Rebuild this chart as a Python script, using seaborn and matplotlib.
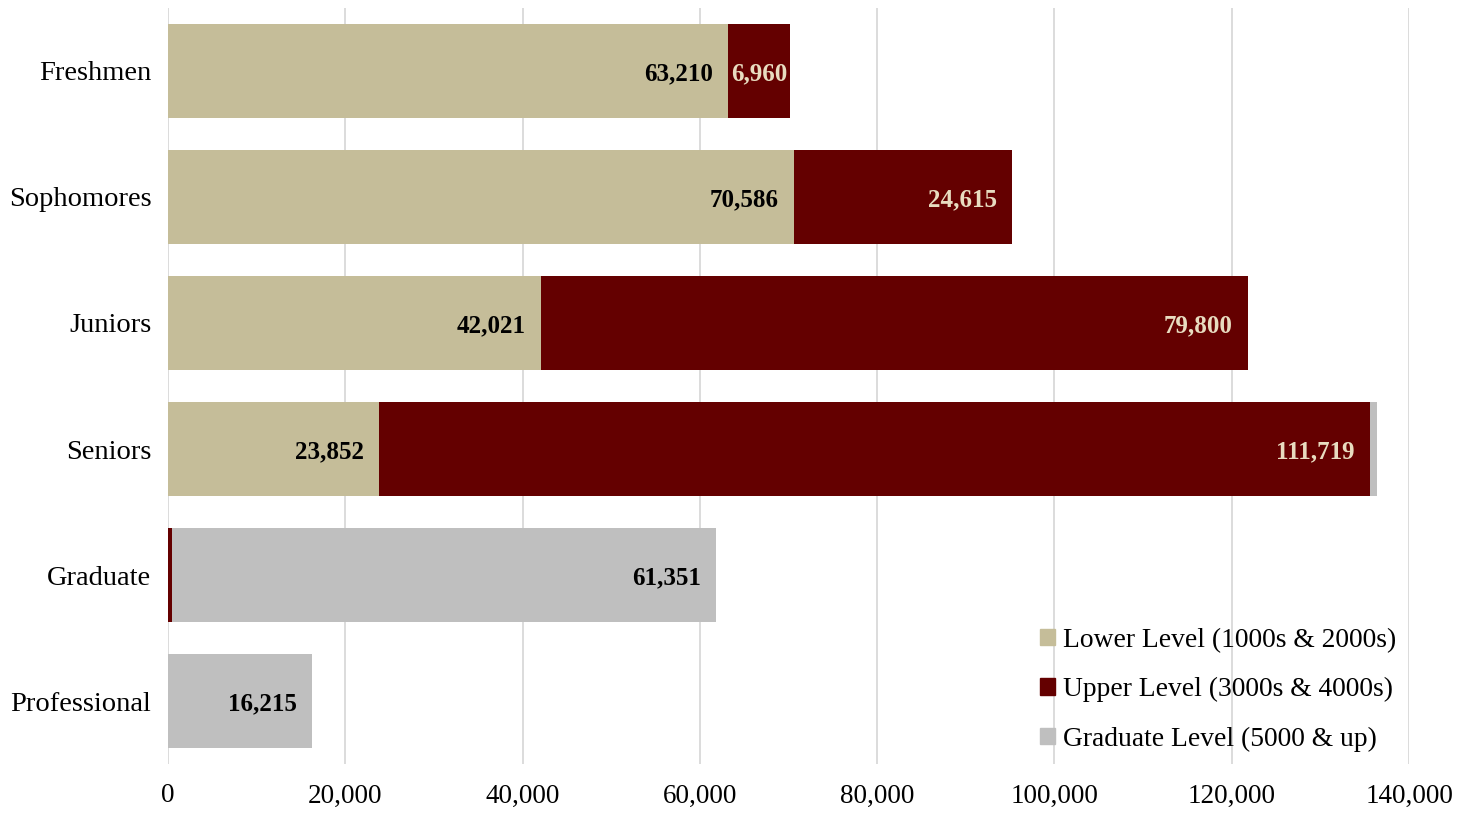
import numpy as np
import pandas as pd
import matplotlib
matplotlib.use("Agg")
import matplotlib.pyplot as plt
import seaborn as sns
from matplotlib.patches import Patch

# --- data ---
classes = ['Freshmen', 'Sophomores', 'Juniors', 'Seniors', 'Graduate', 'Professional']
lower_level = [63210, 70586, 42021, 23852, 0, 0]
upper_level = [6960, 24615, 79800, 111719, 450, 0]
grad_level = [0, 0, 0, 850, 61351, 16215]
series_names = ['Lower Level (1000s & 2000s)', 'Upper Level (3000s & 4000s)', 'Graduate Level (5000 & up)']
x_ticks = [0, 20000, 40000, 60000, 80000, 100000, 120000, 140000]

# labels shown on the chart (None = no label)
lower_labels = [63210, 70586, 42021, 23852, None, None]
upper_labels = [6960, 24615, 79800, 111719, None, None]
grad_labels = [None, None, None, None, 61351, 16215]

C_LOWER = '#C5BD99'
C_UPPER = '#640000'
C_GRAD = '#BFBFBF'

sns.set_theme(style='white')
plt.rcParams['font.family'] = ['Liberation Serif', 'DejaVu Serif']

df = pd.DataFrame({'cls': classes, 'lower': lower_level,
                   'upper': upper_level, 'grad': grad_level})
df['cum_upper'] = df['lower'] + df['upper']
df['cum_grad'] = df['cum_upper'] + df['grad']

fig = plt.figure(figsize=(14.69, 8.14), dpi=100)
ax = fig.add_axes([0.1144, 0.0614, 0.8448, 0.9288])

# stacked bars by overlaying cumulative totals
bar_kw = dict(orient='h', width=0.74, saturation=1, linewidth=0, ax=ax)
sns.barplot(data=df, y='cls', x='cum_grad', color=C_GRAD, zorder=2, **bar_kw)
sns.barplot(data=df, y='cls', x='cum_upper', color=C_UPPER, zorder=3, **bar_kw)
sns.barplot(data=df, y='cls', x='lower', color=C_LOWER, zorder=4, **bar_kw)

def put_labels(vals, ends, seg, color):
    for i, (v, e, s) in enumerate(zip(vals, ends, seg)):
        if v is None:
            continue
        txt = f'{v:,}'
        if s < 10000:
            ax.text(e - s / 2, i, txt, ha='center', va='center_baseline', fontsize=18,
                    fontweight='bold', color=color, zorder=6)
        else:
            ax.annotate(txt, (e, i), xytext=(-11, 0), textcoords='offset points',
                        ha='right', va='center_baseline', fontsize=18, fontweight='bold',
                        color=color, zorder=6)

put_labels(lower_labels, df['lower'], df['lower'], 'black')
put_labels(upper_labels, df['cum_upper'], df['upper'], '#E8DCC0')
put_labels(grad_labels, df['cum_grad'], df['grad'], 'black')

ax.set_xlim(0, 140000)
ax.set_ylim(5.5, -0.5)
ax.set_xticks(x_ticks)
ax.set_xticklabels([f'{t:,}' for t in x_ticks])
ax.set_xlabel('')
ax.set_ylabel('')
ax.tick_params(axis='x', length=0, pad=14, labelsize=19.5, labelcolor='black')
ax.tick_params(axis='y', length=0, pad=12, labelsize=20.5, labelcolor='black')
ax.grid(axis='x', color='#D9D9D9', linewidth=1.3)
ax.grid(axis='y', visible=False)
ax.set_axisbelow(True)
for sp in ax.spines.values():
    sp.set_visible(False)

handles = [Patch(color=C_LOWER), Patch(color=C_UPPER), Patch(color=C_GRAD)]
ax.legend(handles, series_names, loc='lower right', frameon=False, fontsize=19.8,
          labelcolor='black', handlelength=0.55, handleheight=0.55, handletextpad=0.3,
          labelspacing=0.88, borderaxespad=0.05)

fig.savefig('out.png', dpi=100)
